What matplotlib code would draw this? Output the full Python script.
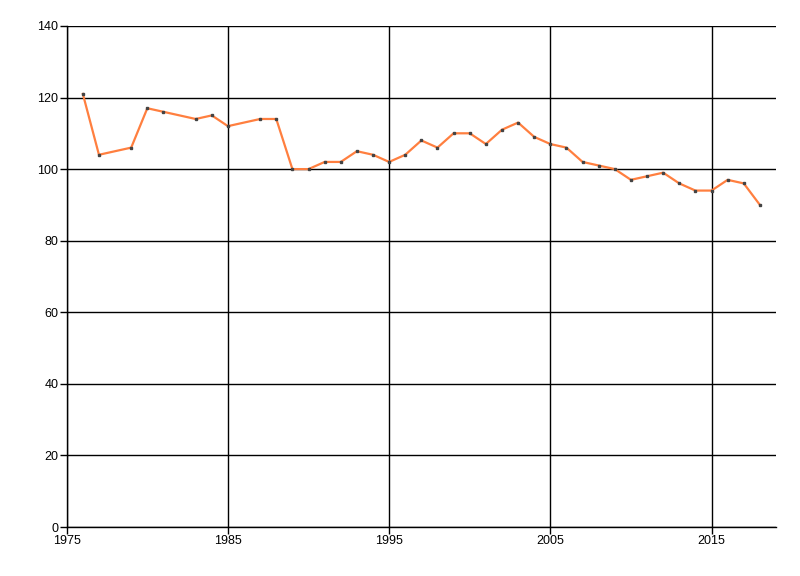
import matplotlib
matplotlib.use('Agg')
import matplotlib.pyplot as plt

# values
years = [1976, 1977, 1979, 1980, 1981, 1983, 1984, 1985, 1987, 1988,
         1989, 1990, 1991, 1992, 1993, 1994, 1995, 1996, 1997, 1998,
         1999, 2000, 2001, 2002, 2003, 2004, 2005, 2006, 2007, 2008,
         2009, 2010, 2011, 2012, 2013, 2014, 2015, 2016, 2017, 2018]
values = [121, 104, 106, 117, 116, 114, 115, 112, 114, 114,
          100, 100, 102, 102, 105, 104, 102, 104, 108, 106,
          110, 110, 107, 111, 113, 109, 107, 106, 102, 101,
          100, 97, 98, 99, 96, 94, 94, 97, 96, 90]
x_ticks = [1975, 1985, 1995, 2005, 2015]
y_ticks = [0, 20, 40, 60, 80, 100, 120, 140]

plt.rcParams['font.family'] = ['Liberation Sans', 'DejaVu Sans']

fig = plt.figure(figsize=(8, 5.76), dpi=100)
ax = fig.add_axes([0.0834, 0.085, 0.8866, 0.87])

ax.plot(years, values, color='#ff7f3f', linewidth=1.6, zorder=3)
ax.plot(years, values, linestyle='none', marker='s', markersize=1.8,
        color='#444444', zorder=4)

ax.set_xlim(1975, 2019)
ax.set_ylim(0, 140)
ax.set_xticks(x_ticks)
ax.set_yticks(y_ticks)
ax.grid(True, color='black', linewidth=1)
ax.set_axisbelow(True)

for side in ['top', 'right']:
    ax.spines[side].set_visible(False)
for side in ['left', 'bottom']:
    ax.spines[side].set_linewidth(1)

ax.tick_params(direction='out', length=5, width=1, labelsize=9, pad=1)

fig.savefig('out.png', dpi=100)
